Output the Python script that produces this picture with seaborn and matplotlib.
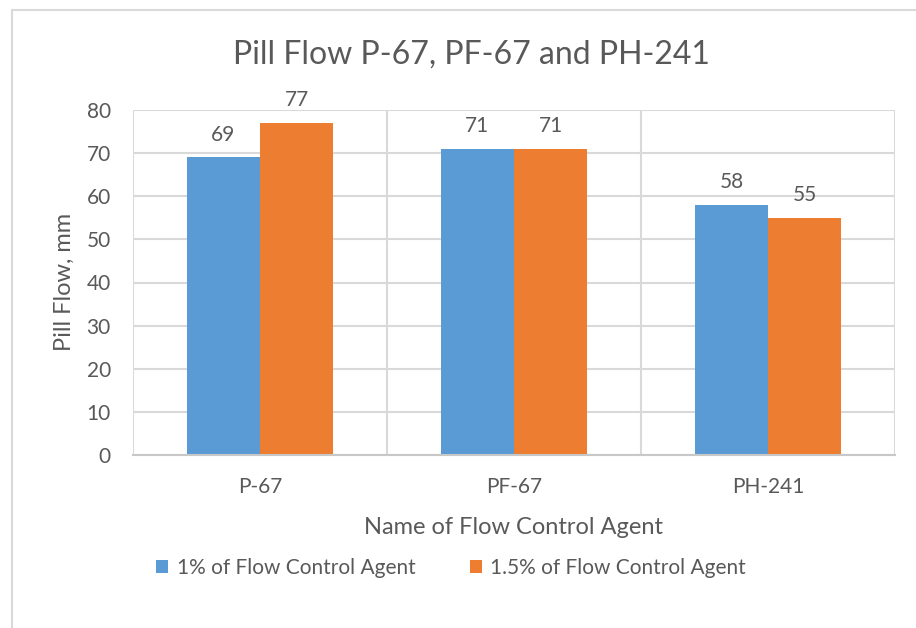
import matplotlib
matplotlib.use("Agg")
import matplotlib.pyplot as plt
import seaborn as sns
import pandas as pd
from matplotlib.patches import Rectangle, Patch

categories = ["P-67", "PF-67", "PH-241"]
series_names = ["1% of Flow Control Agent", "1.5% of Flow Control Agent"]
values_1pct = [69, 71, 58]
values_15pct = [77, 71, 55]
yticks = [0, 10, 20, 30, 40, 50, 60, 70, 80]

df = pd.DataFrame({
    "Agent": categories * 2,
    "Series": [series_names[0]] * 3 + [series_names[1]] * 3,
    "Value": values_1pct + values_15pct,
})

sns.set_theme(style="white")
plt.rcParams["font.family"] = ["Lato", "DejaVu Sans"]
TXT = "#595959"
GRID = "#D9D9D9"
colors = ["#5B9BD5", "#ED7D31"]

fig = plt.figure(figsize=(9.16, 6.28), dpi=100)
ax = fig.add_axes([133/916, 1-455/628, (895-133)/916, (455-110)/628])

sns.barplot(data=df, x="Agent", y="Value", hue="Series", palette=colors,
            width=0.575, gap=0, dodge=True, saturation=1, legend=False, ax=ax,
            edgecolor="none", linewidth=0)

for c in ax.containers:
    ax.bar_label(c, padding=9, fontsize=15, color=TXT)

ax.set_ylim(0, 80)
ax.set_xlim(-0.5, 2.5)
ax.set_yticks(yticks)
ax.set_yticklabels([str(t) for t in yticks], fontsize=15, color=TXT)
ax.set_xticks(range(len(categories)))
ax.set_xticklabels(categories, fontsize=15, color=TXT)
ax.set_xticks([-0.5, 0.5, 1.5, 2.5], minor=True)
ax.tick_params(axis="both", which="both", length=0)
ax.tick_params(axis="x", pad=16)
ax.tick_params(axis="y", pad=16)
ax.grid(axis="y", which="major", color=GRID, linewidth=1.5)
ax.grid(axis="x", which="minor", color=GRID, linewidth=1.5)
ax.set_axisbelow(True)
for s in ["top", "right", "left"]:
    ax.spines[s].set_visible(False)
ax.spines["bottom"].set_color("#C8C8C8")
ax.spines["bottom"].set_linewidth(1.5)

ax.set_xlabel("Name of Flow Control Agent", fontsize=17, color=TXT, labelpad=14)
ax.set_ylabel("")
fig.text(64/916, 1-282/628, "Pill Flow, mm", fontsize=17, color=TXT,
         rotation=90, ha="center", va="center")

fig.text(471/916, 1-55/628, "Pill Flow P-67, PF-67 and PH-241", fontsize=23,
         color=TXT, ha="center", va="center")

handles = [Patch(facecolor=colors[0], edgecolor="none"),
           Patch(facecolor=colors[1], edgecolor="none")]
fig.legend(handles, series_names, loc="center", bbox_to_anchor=(451/916, 1-568/628),
           ncol=2, frameon=False, fontsize=15, labelcolor=TXT,
           handlelength=0.6, handleheight=0.6, handletextpad=0.4, columnspacing=2.6)

fig.patches.append(Rectangle((12/916, -0.1), 1.2, 1-10/628+0.1, transform=fig.transFigure,
                             fill=False, edgecolor="#D9D9D9", linewidth=1.5, zorder=0))

fig.savefig("out.png", dpi=100)
